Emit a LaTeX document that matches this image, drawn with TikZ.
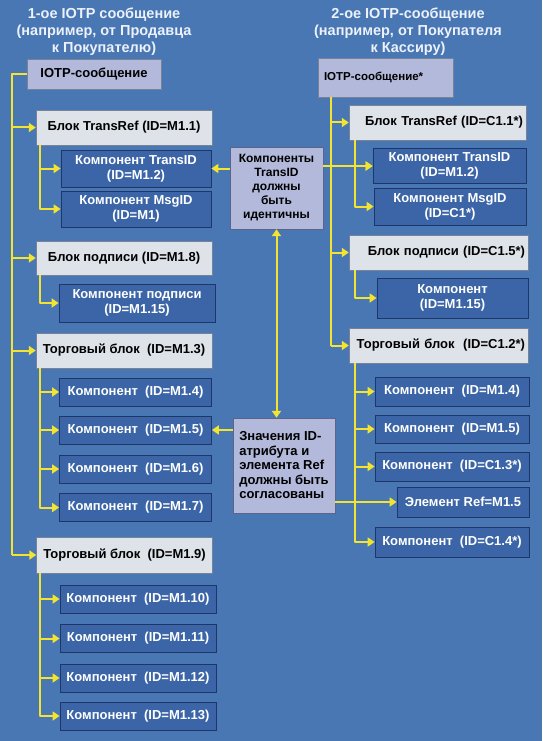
\documentclass[tikz,border=0pt]{standalone}
\usepackage{fontspec}
\setmainfont{Liberation Sans}
\usepackage{xcolor}
\usetikzlibrary{arrows.meta,calc}

\definecolor{bgblue}{RGB}{72,119,180}
\definecolor{compblue}{RGB}{59,101,167}
\definecolor{compline}{RGB}{30,55,104}
\definecolor{boxgray}{RGB}{222,226,233}
\definecolor{boxline}{RGB}{120,130,150}
\definecolor{notelav}{RGB}{178,185,218}
\definecolor{noteline}{RGB}{90,100,140}
\definecolor{wireyellow}{RGB}{242,228,48}
\definecolor{titlewhite}{RGB}{236,241,250}

\begin{document}
\begin{tikzpicture}[x=1pt, y=-1pt, >={Triangle[length=7pt,width=9pt]},
    lbox/.style={draw=boxline, fill=boxgray, minimum width=176pt, minimum height=35pt, inner sep=2pt,
      font=\fontsize{13}{15}\selectfont\bfseries},
    rbox/.style={lbox, inner sep=3pt, align=right},
    cbox/.style={draw=compline, line width=0.8pt, fill=compblue, text=white, minimum width=152pt,
      minimum height=28pt, inner sep=2pt, align=center, font=\fontsize{13}{15}\selectfont\bfseries},
    notebox/.style={draw=noteline, fill=notelav, inner sep=2pt,
      font=\fontsize{13}{14.5}\selectfont\bfseries},
    headline/.style={text=titlewhite, align=center, font=\fontsize{14.5}{17}\selectfont\bfseries},
    wire/.style={draw=wireyellow, line width=2pt, line join=round}]
    \fill[bgblue] (0,0) rectangle (542,741);
    % titles
    \node[headline] (T1) at (104,32) {1-ое IOTP сообщение\\(например, от Продавца\\к Покупателю)};
    \node[headline] (T2) at (408,32) {2-ое IOTP-сообщение\\(например, от Покупателя\\к Кассиру)};
    % first message
    \node[lbox, fill=notelav, minimum width=134pt, minimum height=30pt] (L0) at (94,74) {IOTP-сообщение};
    \node[lbox] (L1) at (124,127.5) {Блок TransRef (ID=M1.1)};
    \node[cbox, minimum width=150pt, minimum height=37pt] (L2) at (136,168.5) {Компонент TransID\\(ID=M1.2)};
    \node[cbox, minimum width=150pt, minimum height=36pt] (L3) at (136,209) {Компонент MsgID\\(ID=M1)};
    \node[lbox, minimum height=34pt] (L4) at (124,258) {Блок подписи (ID=M1.8)};
    \node[cbox, minimum width=156pt, minimum height=38pt] (L5) at (137,303) {Компонент подписи\\(ID=M1.15)};
    \node[lbox] (L6) at (124,350.5) {Торговый блок\ \ (ID=M1.3)};
    \node[cbox] (L7) at (135.5,392) {Компонент\ \ (ID=M1.4)};
    \node[cbox] (L8) at (135.5,430) {Компонент\ \ (ID=M1.5)};
    \node[cbox] (L9) at (135.5,469) {Компонент\ \ (ID=M1.6)};
    \node[cbox] (L10) at (135.5,507.5) {Компонент\ \ (ID=M1.7)};
    \node[lbox, minimum height=36pt] (L11) at (124.5,555) {Торговый блок\ \ (ID=M1.9)};
    \node[cbox, minimum width=156pt] (L12) at (138,599) {Компонент\ \ (ID=M1.10)};
    \node[cbox, minimum width=156pt] (L13) at (138,638.5) {Компонент\ \ (ID=M1.11)};
    \node[cbox, minimum width=156pt] (L14) at (138,678) {Компонент\ \ (ID=M1.12)};
    \node[cbox, minimum width=156pt] (L15) at (138,716) {Компонент\ \ (ID=M1.13)};
    % second message
    \node[lbox, fill=notelav, minimum width=135pt, text width=123pt, minimum height=39pt, inner sep=6pt,
      align=left, font=\fontsize{11.5}{13}\selectfont\bfseries] (R0) at (385.5,77.5) {IOTP-сообщение*};
    \node[rbox, text width=171pt] (R1) at (437.5,122.5) {Блок TransRef (ID=C1.1*)};
    \node[cbox, minimum width=153pt, minimum height=35pt] (R2) at (449.5,166) {Компонент TransID\\(ID=M1.2)};
    \node[cbox, minimum height=37pt] (R3) at (450,206.5) {Компонент MsgID\\(ID=C1*)};
    \node[rbox, text width=173pt] (R4) at (438.5,252.5) {Блок подписи (ID=C1.5*)};
    \node[cbox, minimum width=151pt, minimum height=40pt] (R5) at (452.5,298) {Компонент\\(ID=M1.15)};
    \node[rbox, text width=173pt] (R6) at (438.5,345.5) {Торговый блок\ \ (ID=C1.2*)};
    \node[cbox, minimum width=154pt, minimum height=29pt] (R7) at (452,391.5) {Компонент\ \ (ID=M1.4)};
    \node[cbox, minimum width=154pt] (R8) at (452,429) {Компонент\ \ (ID=M1.5)};
    \node[cbox, minimum width=154pt, minimum height=29pt] (R9) at (452,466.5) {Компонент\ \ (ID=C1.3*)};
    \node[cbox, minimum width=132pt, minimum height=30pt] (R10) at (463,502) {Элемент Ref=M1.5};
    \node[cbox, minimum width=154pt, minimum height=30pt] (R11) at (452,542) {Компонент\ \ (ID=C1.4*)};
    % notes
    \node[notebox, minimum width=93pt, minimum height=82pt, align=center,
      font=\fontsize{12}{14}\selectfont\bfseries] (N1) at (276.5,188)
      {Компоненты\\TransID\\должны\\быть\\идентичны};
    \node[notebox, minimum width=102pt, minimum height=95pt, align=left] (N2) at (284,465.5)
      {Значения ID-\\атрибута и\\элемента Ref\\должны быть\\согласованы};
    % first message wires
    \draw[wire] (L0.west) -- (12,74) coordinate (LM) -- (LM |- L11.west);
    \foreach \b in {L1,L4,L6,L11} \draw[wire,->] (LM |- \b.west) -- (\b.west);
    \foreach \p/\kids in {L1/{L2,L3}, L4/{L5}, L6/{L7,L8,L9,L10}, L11/{L12,L13,L14,L15}} {
      \coordinate (s) at ($(\p.south west)+(4,0)$);
      \foreach \k in \kids \draw[wire,->] (s) |- (\k.west);
    }
    % second message wires
    \coordinate (RM) at ($(R0.south west)+(13,0)$);
    \draw[wire] (RM) -- (RM |- R6.west);
    \foreach \b in {R1,R4,R6} \draw[wire,->] (RM |- \b.west) -- (\b.west);
    \foreach \p/\kids in {R1/{R2,R3}, R4/{R5}, R6/{R7,R8,R9,R11}} {
      \coordinate (s) at ($(\p.south west)+(6,0)$);
      \foreach \k in \kids \draw[wire,->] (s) |- (\k.west);
    }
    % notes wires
    \draw[wire,->] (N1.west |- L2.east) -- (L2.east);
    \draw[wire,->] (N1.east |- R2.west) -- (R2.west);
    \draw[wire,<->] (N1.south) -- (N1.south |- N2.north);
    \draw[wire,->] (N2.west |- L8.east) -- (L8.east);
    \draw[wire,->] (N2.east |- R10.west) -- (R10.west);
\end{tikzpicture}
\end{document}
